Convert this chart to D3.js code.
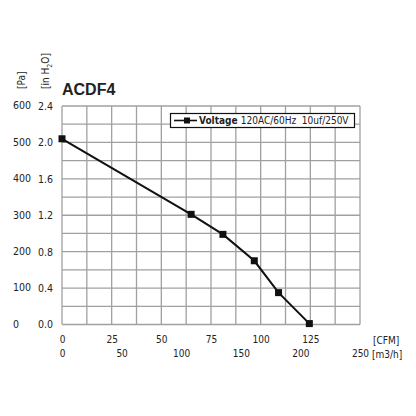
<!DOCTYPE html>
<html>
<head>
<meta charset="utf-8">
<script src="https://cdn.jsdelivr.net/npm/d3@7"></script>
<style>
  body { margin: 0; background: #fff; }
  svg text { font-family: "DejaVu Sans Condensed", "Liberation Sans Narrow", sans-serif; fill: #222; }
</style>
</head>
<body>
<div id="chart"></div>
<script>
// fan curve data
const flowCFM = [0, 65, 81, 96.8, 109, 124.5]
const pressureInH2O = [2.04, 1.21, 0.99, 0.70, 0.35, 0.01]

const cfmTicks = [0, 25, 50, 75, 100, 125]
const m3hTicks = [0, 50, 100, 150, 200, 250]
const inH2OTicks = [0.0, 0.4, 0.8, 1.2, 1.6, 2.0, 2.4]
const paTicks = [0, 100, 200, 300, 400, 500, 600]

const title = "ACDF4"
const legendName = "Voltage"
const legendText = "120AC/60Hz  10uf/250V"

const w = 416
const h = 416
const plotLeft = 62, plotRight = 360, plotTop = 106, plotBottom = 324.5

const xScale = d3.scaleLinear().domain([0, 150]).range([plotLeft, plotRight])
const xScaleM3h = d3.scaleLinear().domain([0, 250]).range([plotLeft, plotRight])
const yScale = d3.scaleLinear().domain([0, 2.4]).range([plotBottom, plotTop])
const yScalePa = d3.scaleLinear().domain([0, 600]).range([plotBottom, plotTop])

const svg = d3.select("#chart")
              .append("svg")
              .attr("width", w)
              .attr("height", h)

// grid: minor lines every half tick
const gridX = d3.range(0, 150.1, 12.5)
const gridY = d3.range(0, 2.41, 0.2)

svg.append("g")
  .selectAll("line")
  .data(gridX)
  .enter()
  .append("line")
    .attr("x1", d => xScale(d))
    .attr("x2", d => xScale(d))
    .attr("y1", plotTop)
    .attr("y2", plotBottom)
    .attr("stroke", "#a0a0a0")
    .attr("stroke-width", 1.3)

svg.append("g")
  .selectAll("line")
  .data(gridY)
  .enter()
  .append("line")
    .attr("x1", plotLeft)
    .attr("x2", plotRight)
    .attr("y1", d => yScale(d))
    .attr("y2", d => yScale(d))
    .attr("stroke", "#a0a0a0")
    .attr("stroke-width", 1.3)

// x axis labels (CFM and m3/h)
const xAxis = d3.axisBottom(xScale).tickValues(cfmTicks).tickSize(0).tickPadding(0)
svg.append("g")
  .attr("transform", `translate(0, 336)`)
  .call(xAxis)
  .call(g => g.select(".domain").remove())
  .call(g => g.selectAll("text").attr("font-size", 10).attr("fill", "#222").attr("dy", "0.71em"))

const xAxis2 = d3.axisBottom(xScaleM3h).tickValues(m3hTicks).tickSize(0).tickPadding(0)
svg.append("g")
  .attr("transform", `translate(0, 350)`)
  .call(xAxis2)
  .call(g => g.select(".domain").remove())
  .call(g => g.selectAll("text").attr("font-size", 10).attr("fill", "#222").attr("dy", "0.71em"))

svg.append("text")
  .attr("x", 373).attr("y", 343.5)
  .attr("font-size", 10)
  .text("[CFM]")
svg.append("text")
  .attr("x", 372).attr("y", 357.5)
  .attr("font-size", 10)
  .text("[m3/h]")

// y axis labels (in H2O and Pa)
const yAxis = d3.axisLeft(yScale).tickValues(inH2OTicks).tickFormat(d3.format(".1f")).tickSize(0).tickPadding(0)
svg.append("g")
  .attr("transform", `translate(53, 0)`)
  .call(yAxis)
  .call(g => g.select(".domain").remove())
  .call(g => g.selectAll("text").attr("font-size", 10.5).attr("fill", "#222"))

svg.append("g")
  .selectAll("text")
  .data(paTicks)
  .enter()
  .append("text")
    .attr("x", 13)
    .attr("y", d => yScalePa(d))
    .attr("dy", "0.32em")
    .attr("font-size", 10.5)
    .text(d => d)

// rotated unit labels
svg.append("text")
  .attr("transform", "translate(25, 89) rotate(-90)")
  .attr("font-size", 10)
  .text("[Pa]")

const unit = svg.append("text")
  .attr("transform", "translate(49, 89) rotate(-90)")
  .attr("font-size", 10)
unit.append("tspan").text("[in H")
unit.append("tspan").attr("font-size", 7).attr("dy", 2.5).text("2")
unit.append("tspan").attr("dy", -2.5).text("O]")

// title
svg.append("text")
  .attr("x", 62).attr("y", 95)
  .attr("font-size", 16)
  .attr("font-weight", "bold")
  .style("font-family", "'Liberation Sans Narrow', sans-serif")
  .text(title)

// curve
const line = d3.line()
  .x((d, i) => xScale(flowCFM[i]))
  .y(d => yScale(d))

svg.append("path")
  .datum(pressureInH2O)
  .attr("d", line)
  .attr("fill", "none")
  .attr("stroke", "#111")
  .attr("stroke-width", 2)

svg.selectAll("rect.pt")
  .data(pressureInH2O)
  .enter()
  .append("rect")
    .attr("class", "pt")
    .attr("x", (d, i) => xScale(flowCFM[i]) - 3.5)
    .attr("y", d => yScale(d) - 3.5)
    .attr("width", 7)
    .attr("height", 7)
    .attr("fill", "#111")

// legend
const legend = svg.append("g")
legend.append("rect")
  .attr("x", 170.5).attr("y", 113.5)
  .attr("width", 184).attr("height", 14)
  .attr("fill", "#fff")
  .attr("stroke", "#111")
  .attr("stroke-width", 1.2)
legend.append("line")
  .attr("x1", 174).attr("x2", 197)
  .attr("y1", 120.5).attr("y2", 120.5)
  .attr("stroke", "#111").attr("stroke-width", 1.6)
legend.append("rect")
  .attr("x", 184).attr("y", 117.5)
  .attr("width", 6).attr("height", 6)
  .attr("fill", "#111")
const lt = legend.append("text")
  .attr("x", 199).attr("y", 124.2)
  .attr("font-size", 10)
  .attr("xml:space", "preserve")
lt.append("tspan").attr("font-weight", "bold").text(legendName + " ")
lt.append("tspan").text(legendText)
</script>
</body>
</html>
